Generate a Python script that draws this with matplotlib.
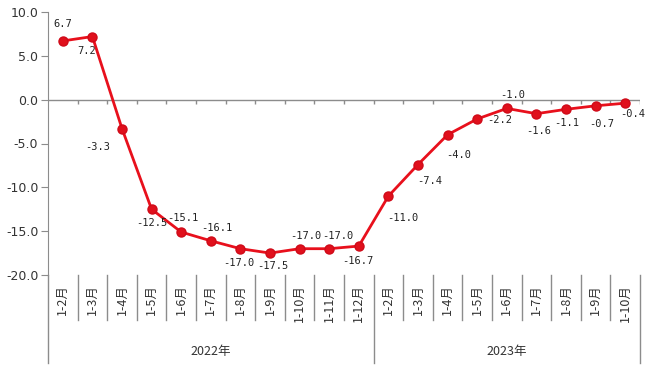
import matplotlib
matplotlib.use("Agg")
import matplotlib.pyplot as plt
from matplotlib.transforms import blended_transform_factory

# ---- data ----
years = ["2022年", "2023年"]
months_2022 = ["1-2月", "1-3月", "1-4月", "1-5月", "1-6月", "1-7月", "1-8月",
               "1-9月", "1-10月", "1-11月", "1-12月"]
months_2023 = ["1-2月", "1-3月", "1-4月", "1-5月", "1-6月", "1-7月", "1-8月",
               "1-9月", "1-10月"]
values_2022 = [6.7, 7.2, -3.3, -12.5, -15.1, -16.1, -17.0, -17.5, -17.0, -17.0, -16.7]
values_2023 = [-11.0, -7.4, -4.0, -2.2, -1.0, -1.6, -1.1, -0.7, -0.4]
yticks = [10.0, 5.0, 0.0, -5.0, -10.0, -15.0, -20.0]

# label offsets in pixels (dx, dy), screen up is positive
label_offsets = [(0, 17), (-6, -14), (-24, -18), (0, -14), (2, 14), (6, 13),
                 (-2, -14), (3, -13), (6, 13), (9, 13), (-1, -15),
                 (14, -22), (12, -16), (11, -20), (23, -1), (6, 13), (2, -17),
                 (1, -14), (6, -18), (8, -11)]

labels = months_2022 + months_2023
values = values_2022 + values_2023
groups = [len(months_2022), len(months_2023)]
n = len(labels)
x = list(range(n))

CJK = ["Noto Sans CJK SC", "DejaVu Sans"]
GRAY = "#8c8c8c"
RED = "#e8101c"

fig = plt.figure(figsize=(6.56, 3.86), dpi=100)
W, H = 656, 386
ax = fig.add_axes([48 / W, 1 - 275 / H, (640 - 48) / W, (275 - 12) / H])

ax.plot(x, values, color=RED, lw=2.0, marker="o", ms=6.5,
        mfc="#e0101c", mec="#d00a18", zorder=3)

for xi, v, (dx, dy) in zip(x, values, label_offsets):
    ax.annotate(f"{v:.1f}", (xi, v), xytext=(dx, dy), textcoords="offset pixels",
                ha="center", va="center", fontsize=7.5, color="#222222",
                family="DejaVu Sans Mono")

ax.set_xlim(-0.5, n - 0.5)
ax.set_ylim(-20, 10)
ax.set_yticks(yticks)
ax.set_yticklabels([f"{t:.1f}" for t in yticks], fontsize=9, color="#333333")
ax.tick_params(axis="y", length=5, color=GRAY, pad=2)
ax.set_xticks([])

for s in ["top", "right", "bottom"]:
    ax.spines[s].set_visible(False)
ax.spines["left"].set_color(GRAY)

# zero line with small ticks at category boundaries
ax.axhline(0, color=GRAY, lw=1.0, zorder=1)
ax.vlines([b + 0.5 for b in range(n)], -0.5, 0, color=GRAY, lw=1.0, zorder=1)

tr = blended_transform_factory(ax.transData, ax.transAxes)
ah = 263.0

# category dividers and labels below the plot
starts = [0]
for g in groups[:-1]:
    starts.append(starts[-1] + g)
long_bounds = [s - 0.5 for s in starts] + [n - 0.5]
for b in range(n + 1):
    bx = b - 0.5
    y1 = -88 / ah if bx in long_bounds else -45 / ah
    ax.plot([bx, bx], [0, y1], transform=tr, color=GRAY, lw=1.0, clip_on=False)

for xi, lab in zip(x, labels):
    ax.text(xi, -9 / ah, lab, transform=tr, rotation=90, ha="center", va="top",
            fontsize=9, family=CJK, color="#333333")

for s, g, yr in zip(starts, groups, years):
    ax.text(s - 0.5 + g / 2, -76 / ah, yr, transform=tr, ha="center", va="center",
            fontsize=9, family=CJK, color="#333333")

fig.savefig("out.png", dpi=100)
